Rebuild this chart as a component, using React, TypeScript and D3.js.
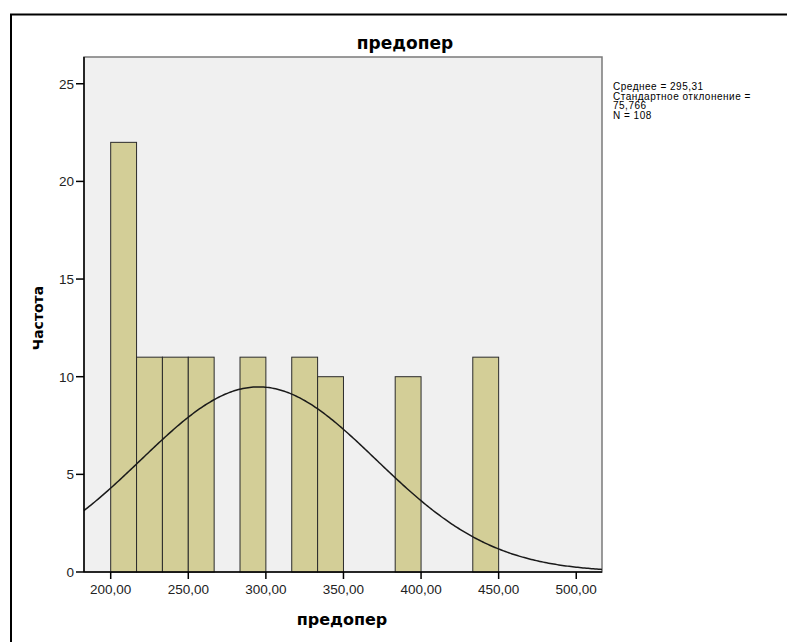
import React from "react";
import * as d3 from "d3";

const binStarts = [200, 216.667, 233.333, 250, 266.667, 283.333, 300, 316.667, 333.333, 350, 366.667, 383.333, 400, 416.667, 433.333];
const binCounts = [22, 11, 11, 11, 0, 11, 0, 11, 10, 0, 0, 10, 0, 0, 11];
const binWidth = 16.667;
const mean = 295.31;
const sd = 75.766;
const n = 108;
const xTicks = [200, 250, 300, 350, 400, 450, 500];
const yTicks = [0, 5, 10, 15, 20, 25];
const legendLines = ["Среднее = 295,31", "Стандартное отклонение =", "75,766", "N = 108"];
const title = "предопер";
const xTitle = "предопер";
const yTitle = "Частота";

const W = 787, H = 642;
const left = 84, right = 602, top = 57, bottom = 572;
const font = "'Liberation Sans', Arial, sans-serif";
const boldFont = "'DejaVu Sans', Verdana, sans-serif";

export default function App() {
  const x = d3.scaleLinear().domain([182.8, 516.6]).range([left, right]);
  const y = d3.scaleLinear().domain([0, 26.37]).range([bottom, top]);
  const fmt = (v: number) => v.toFixed(2).replace(".", ",");

  const curveXs = d3.range(0, 301).map((i) => 182.8 + (i / 300) * (516.6 - 182.8));
  const dens = (v: number) =>
    (n * binWidth) / (sd * Math.sqrt(2 * Math.PI)) * Math.exp(-0.5 * ((v - mean) / sd) ** 2);
  const line = d3.line<number>().x((v) => x(v)).y((v) => y(dens(v)));

  return (
    <svg width={W} height={H} style={{ position: "absolute", left: 0, top: 0, background: "#fff" }} fontFamily={font}>
      <rect x={0} y={0} width={W} height={H} fill="#fff" />
      {/* outer frame */}
      <path d={`M11,${H + 5} V14.5 H${W + 5}`} fill="none" stroke="#000" strokeWidth={2} />
      {/* plot background */}
      <rect x={left} y={top} width={right - left} height={bottom - top} fill="#f0f0f0" stroke="#7a7a7a" strokeWidth={1.5} />
      {/* bars */}
      {binStarts.map((s, i) =>
        binCounts[i] > 0 ? (
          <rect
            key={i}
            x={x(s)}
            y={y(binCounts[i])}
            width={x(s + binWidth) - x(s)}
            height={y(0) - y(binCounts[i])}
            fill="#d3ce97"
            stroke="#2b2b2b"
            strokeWidth={1}
          />
        ) : null
      )}
      {/* normal curve */}
      <path d={line(curveXs) || ""} fill="none" stroke="#1a1a1a" strokeWidth={1.5} />
      {/* axes */}
      <line x1={left} y1={top} x2={left} y2={bottom} stroke="#000" strokeWidth={1.5} />
      <line x1={left} y1={bottom} x2={right} y2={bottom} stroke="#000" strokeWidth={1.5} />
      {yTicks.map((t) => (
        <g key={t}>
          <line x1={left - 8} x2={left} y1={y(t)} y2={y(t)} stroke="#000" strokeWidth={1.5} />
          <text x={left - 10} y={y(t)} dy="0.36em" textAnchor="end" fontSize={13.5} fill="#222">
            {t}
          </text>
        </g>
      ))}
      {xTicks.map((t) => (
        <g key={t}>
          <line x1={x(t)} x2={x(t)} y1={bottom} y2={bottom + 7} stroke="#000" strokeWidth={1.5} />
          <text x={x(t)} y={bottom + 17} dy="0.36em" textAnchor="middle" fontSize={13.5} fill="#222">
            {fmt(t)}
          </text>
        </g>
      ))}
      {/* titles */}
      <text x={405} y={49} textAnchor="middle" fontSize={17} fontWeight="bold" fontFamily={boldFont} fill="#000">
        {title}
      </text>
      <text x={342} y={625} textAnchor="middle" fontSize={16} fontWeight="bold" fontFamily={boldFont} fill="#000">
        {xTitle}
      </text>
      <text transform={`translate(43,318) rotate(-90)`} textAnchor="middle" fontSize={14} fontWeight="bold" fontFamily={boldFont} fill="#000">
        {yTitle}
      </text>
      {/* legend */}
      {legendLines.map((l, i) => (
        <text key={i} x={613} y={90 + i * 9.6} fontSize={10} letterSpacing={0.5} fill="#000">
          {l}
        </text>
      ))}
    </svg>
  );
}
